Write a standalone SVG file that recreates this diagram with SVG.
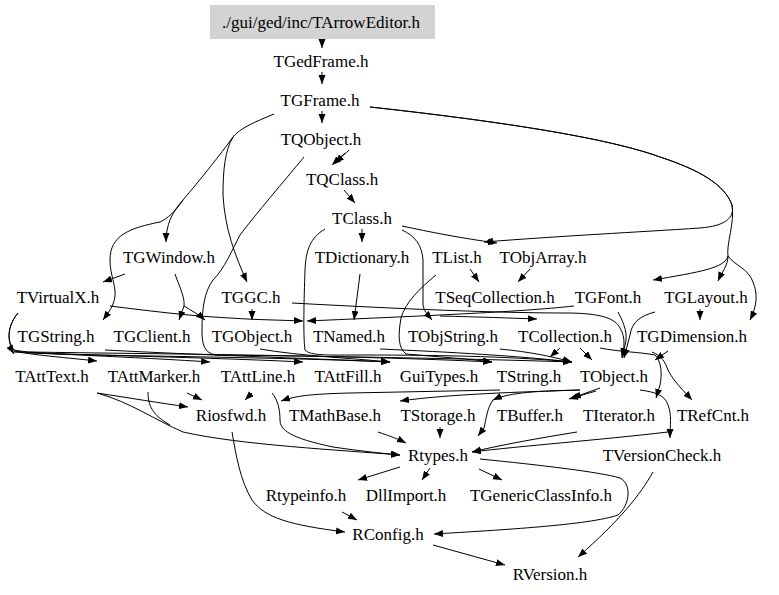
<svg xmlns="http://www.w3.org/2000/svg" width="779" height="595" viewBox="0 0 779 595">
<style>
text{font-family:'Liberation Serif','DejaVu Serif',serif;font-size:17px;fill:#000;text-anchor:middle}
.e{fill:none;stroke:#000;stroke-width:1}
</style>
<defs>
<marker id="a" markerWidth="10" markerHeight="8" refX="9" refY="3.5" orient="auto-start-reverse" markerUnits="userSpaceOnUse"><path d="M0,0 L9,3.5 L0,7 z" fill="#000"/></marker>
</defs>
<rect width="779" height="595" fill="#fff"/>
<g id="connectors">
<path class="e" marker-end="url(#a)" d="M322,39 L322,48"/>
<path class="e" marker-end="url(#a)" d="M322,72 L322,84"/>
<path class="e" marker-end="url(#a)" d="M322,111 L322,123"/>
<path class="e" marker-end="url(#a)" d="M349,150 L335,163"/>
<path class="e" marker-end="url(#a)" d="M345,153 L332,165"/>
<path class="e" marker-end="url(#a)" d="M344,190 L355,203"/>
<path class="e" marker-end="url(#a)" d="M362,229 L362,242"/>
<path class="e" marker-end="url(#a)" d="M402,226 C430,232 460,238 497,243"/>
<path class="e" marker-end="url(#a)" d="M370,107 C470,118 600,135 660,157 C700,170 725,185 732,205 C735,218 725,226 700,228 C640,232 560,236 484,242"/>
<path class="e" marker-end="url(#a)" d="M370,107 C470,118 600,135 660,157 C700,170 725,185 732,205 C735,222 726,245 728,256 C728,265 722,272 718,281"/>
<path class="e" marker-end="url(#a)" d="M728,256 C725,268 700,272 653,280"/>
<path class="e" marker-end="url(#a)" d="M728,256 C735,266 748,268 753,282 C758,294 757,306 750,320"/>
<path class="e" marker-end="url(#a)" d="M274,114 C255,122 240,128 233,137 C220,155 200,180 183,200 C172,212 166,225 166,242"/>
<path class="e" marker-end="url(#a)" d="M183,200 C175,212 168,218 160,222 C130,228 110,235 110,260 C110,275 116,285 115,296 C114,306 108,313 103,320"/>
<path class="e" marker-end="url(#a)" d="M233,137 C225,150 223,170 223,195 C225,230 235,255 247,282"/>
<path class="e" marker-end="url(#a)" d="M125,274 L103,282"/>
<path class="e" marker-end="url(#a)" d="M175,274 C180,288 185,298 184,306 L179,320"/>
<path class="e" marker-end="url(#a)" d="M184,306 C192,311 198,314 205,320"/>
<path class="e" marker-end="url(#a)" d="M252,309 L252,320"/>
<path class="e" marker-end="url(#a)" d="M110,306 C150,311 190,316 230,318 C260,320 280,320 303,321"/>
<path class="e" marker-end="url(#a)" d="M574,306 C520,312 420,316 307,321"/>
<path class="e" marker-end="url(#a)" d="M292,303 C400,309 500,313 565,313 C600,313 615,318 620,328 C626,338 624,348 622,357"/>
<path class="e" marker-end="url(#a)" d="M360,274 C358,290 356,305 354,320"/>
<path class="e" marker-end="url(#a)" d="M470,269 L479,282"/>
<path class="e" marker-end="url(#a)" d="M530,269 L518,282"/>
<path class="e" marker-end="url(#a)" d="M402,230 C415,236 422,245 423,260 L423,305 C424,311 427,314 432,320"/>
<path class="e" marker-end="url(#a)" d="M436,275 C420,288 405,303 401,318 C398,335 398,348 406,354 C440,357 470,359 492,362"/>
<path class="e" marker-end="url(#a)" d="M440,316 C480,317 510,318 537,319"/>
<path class="e" marker-end="url(#a)" d="M18,313 C8,325 6,340 14,354"/>
<path class="e" marker-end="url(#a)" d="M18,313 C8,325 6,340 14,350 C20,354 60,357 97,361"/>
<path class="e" marker-end="url(#a)" d="M14,350 C30,354 120,356 210,362"/>
<path class="e" marker-end="url(#a)" d="M14,351 C40,355 180,356 303,362"/>
<path class="e" marker-end="url(#a)" d="M14,352 C60,356 250,356 390,362"/>
<path class="e" marker-end="url(#a)" d="M30,352 C150,354 350,355 492,362"/>
<path class="e" marker-end="url(#a)" d="M105,350 C200,355 300,358 390,362"/>
<path class="e" marker-end="url(#a)" d="M304,157 C285,180 255,215 240,235 C232,250 225,268 213,280 C204,292 202,310 202,330 C202,345 204,352 215,355 C300,356 450,358 572,362"/>
<path class="e" marker-end="url(#a)" d="M260,349 C300,356 350,358 390,362"/>
<path class="e" marker-end="url(#a)" d="M325,229 C310,238 306,250 305,270 C304,300 303,335 305,350 C310,356 330,355 360,355 C450,355 520,357 572,362"/>
<path class="e" marker-end="url(#a)" d="M380,349 C450,352 520,356 572,362"/>
<path class="e" marker-end="url(#a)" d="M500,349 C530,352 550,356 572,362"/>
<path class="e" marker-end="url(#a)" d="M560,348 L550,357"/>
<path class="e" marker-end="url(#a)" d="M580,348 L592,360"/>
<path class="e" marker-end="url(#a)" d="M618,312 C625,325 628,335 625,345 L622,358"/>
<path class="e" marker-end="url(#a)" d="M655,312 C640,316 632,322 630,335 L624,358"/>
<path class="e" marker-end="url(#a)" d="M668,351 L655,360"/>
<path class="e" marker-end="url(#a)" d="M700,309 L700,320"/>
<path class="e" marker-end="url(#a)" d="M600,348 C620,352 640,352 655,355 C662,362 662,375 660,385 L656,398"/>
<path class="e" marker-end="url(#a)" d="M652,352 C662,356 665,362 668,370 C674,382 683,390 692,400"/>
<path class="e" marker-end="url(#a)" d="M500,390 C450,391 400,392 350,393 C310,394 295,396 281,401"/>
<path class="e" marker-end="url(#a)" d="M580,390 C520,392 450,394 400,401"/>
<path class="e" marker-end="url(#a)" d="M580,390 C540,391 510,392 493,400"/>
<path class="e" marker-end="url(#a)" d="M600,388 L572,398"/>
<path class="e" marker-end="url(#a)" d="M596,391 L569,399"/>
<path class="e" marker-end="url(#a)" d="M493,400 C487,408 486,420 484,428 L478,436"/>
<path class="e" marker-end="url(#a)" d="M640,390 C655,392 665,395 668,405 C672,415 670,425 670,438"/>
<path class="e" marker-end="url(#a)" d="M577,432 C540,438 500,445 472,452"/>
<path class="e" marker-end="url(#a)" d="M668,432 C600,440 520,446 472,452"/>
<path class="e" marker-end="url(#a)" d="M440,427 L440,438"/>
<path class="e" marker-end="url(#a)" d="M378,432 C390,436 398,439 406,443"/>
<path class="e" marker-end="url(#a)" d="M97,393 C130,398 160,403 188,407"/>
<path class="e" marker-end="url(#a)" d="M97,393 C130,402 155,420 183,432 C240,445 340,450 400,455"/>
<path class="e" marker-end="url(#a)" d="M187,393 L202,400"/>
<path class="e" d="M148,392 C148,405 152,415 170,425"/>
<path class="e" marker-end="url(#a)" d="M252,393 L245,400"/>
<path class="e" marker-end="url(#a)" d="M272,393 C278,400 280,410 280,420 C280,430 290,438 333,447 C360,451 380,453 400,455"/>
<path class="e" marker-end="url(#a)" d="M400,467 L358,480"/>
<path class="e" marker-end="url(#a)" d="M430,468 L422,480"/>
<path class="e" marker-end="url(#a)" d="M479,469 L502,480"/>
<path class="e" marker-end="url(#a)" d="M480,459 C540,465 600,472 620,478 C632,484 630,505 618,515 C590,525 500,530 434,534"/>
<path class="e" marker-end="url(#a)" d="M342,512 L357,520"/>
<path class="e" marker-end="url(#a)" d="M232,432 C236,455 240,480 252,500 C265,518 290,525 345,532"/>
<path class="e" marker-end="url(#a)" d="M433,545 L505,565"/>
<path class="e" marker-end="url(#a)" d="M653,472 C640,495 620,520 578,557"/>
</g>
<g id="n_root"><rect x="210" y="5" width="225" height="34" fill="#d3d3d3"/><text x="321" y="28">./gui/ged/inc/TArrowEditor.h</text></g>
<g id="n_TGedFrame"><text x="321" y="67">TGedFrame.h</text></g>
<g id="n_TGFrame"><text x="320" y="106">TGFrame.h</text></g>
<g id="n_TQObject"><text x="321" y="145">TQObject.h</text></g>
<g id="n_TQClass"><text x="342" y="185">TQClass.h</text></g>
<g id="n_TClass"><text x="362" y="224">TClass.h</text></g>
<g id="n_TGWindow"><text x="169" y="263">TGWindow.h</text></g>
<g id="n_TDictionary"><text x="362" y="263">TDictionary.h</text></g>
<g id="n_TList"><text x="457" y="263">TList.h</text></g>
<g id="n_TObjArray"><text x="543" y="263">TObjArray.h</text></g>
<g id="n_TVirtualX"><text x="58" y="303">TVirtualX.h</text></g>
<g id="n_TGGC"><text x="251" y="303">TGGC.h</text></g>
<g id="n_TSeqCollection"><text x="495" y="303">TSeqCollection.h</text></g>
<g id="n_TGFont"><text x="608" y="303">TGFont.h</text></g>
<g id="n_TGLayout"><text x="706" y="303">TGLayout.h</text></g>
<g id="n_TGString"><text x="56" y="342">TGString.h</text></g>
<g id="n_TGClient"><text x="152" y="342">TGClient.h</text></g>
<g id="n_TGObject"><text x="252" y="342">TGObject.h</text></g>
<g id="n_TNamed"><text x="349" y="342">TNamed.h</text></g>
<g id="n_TObjString"><text x="453" y="342">TObjString.h</text></g>
<g id="n_TCollection"><text x="565" y="342">TCollection.h</text></g>
<g id="n_TGDimension"><text x="692" y="342">TGDimension.h</text></g>
<g id="n_TAttText"><text x="52" y="382">TAttText.h</text></g>
<g id="n_TAttMarker"><text x="154" y="382">TAttMarker.h</text></g>
<g id="n_TAttLine"><text x="258" y="382">TAttLine.h</text></g>
<g id="n_TAttFill"><text x="348" y="382">TAttFill.h</text></g>
<g id="n_GuiTypes"><text x="439" y="382">GuiTypes.h</text></g>
<g id="n_TString"><text x="529" y="382">TString.h</text></g>
<g id="n_TObject"><text x="614" y="382">TObject.h</text></g>
<g id="n_Riosfwd"><text x="231" y="421">Riosfwd.h</text></g>
<g id="n_TMathBase"><text x="335" y="421">TMathBase.h</text></g>
<g id="n_TStorage"><text x="438" y="421">TStorage.h</text></g>
<g id="n_TBuffer"><text x="530" y="421">TBuffer.h</text></g>
<g id="n_TIterator"><text x="619" y="421">TIterator.h</text></g>
<g id="n_TRefCnt"><text x="713" y="421">TRefCnt.h</text></g>
<g id="n_Rtypes"><text x="438" y="461">Rtypes.h</text></g>
<g id="n_TVersionCheck"><text x="662" y="461">TVersionCheck.h</text></g>
<g id="n_Rtypeinfo"><text x="306" y="501">Rtypeinfo.h</text></g>
<g id="n_DllImport"><text x="406" y="501">DllImport.h</text></g>
<g id="n_TGenericClassInfo"><text x="541" y="501">TGenericClassInfo.h</text></g>
<g id="n_RConfig"><text x="388" y="540">RConfig.h</text></g>
<g id="n_RVersion"><text x="550" y="580">RVersion.h</text></g>
</svg>
